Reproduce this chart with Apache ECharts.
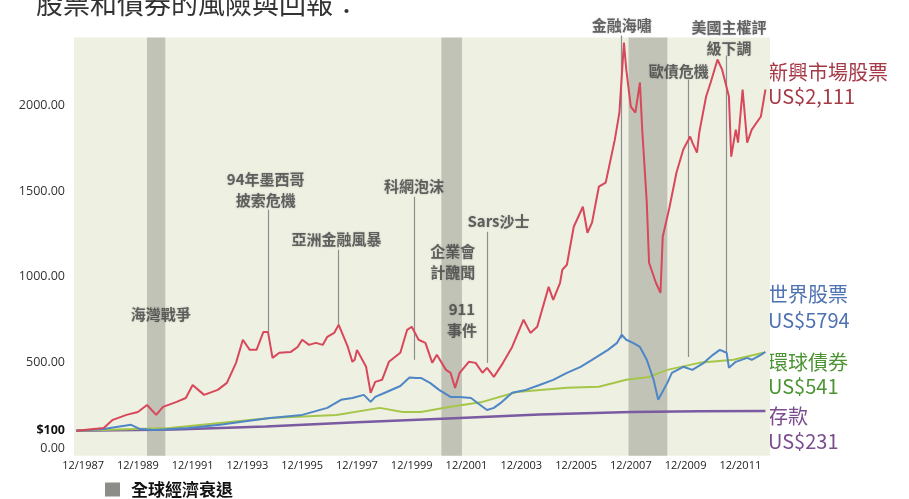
<!DOCTYPE html>
<html><head><meta charset="utf-8">
<script src="https://cdn.jsdelivr.net/npm/echarts@6/dist/echarts.min.js"></script>
<style>html,body{margin:0;padding:0;background:#fff}#c{width:909px;height:499px}</style>
</head><body><div id="c"></div>
<script>
// x = months after 12/1987
const xTickMonths = [0,24,48,72,96,120,144,168,192,216,240,264,288];
const yTicks = [0,100,500,1000,1500,2000];

const emMonths = [-3,9,13,19,24,28,32,35,41,45,48,53,59,63,67,70,73,76,79,81,83,86,91,94,96,99,102,105,107,110,112,116,118,119,120,124,126,128,131,134,139,142,144,147,150,153,155,159,161,163,165,169,172,175,177,180,184,188,193,196,199,204,206,209,210,212,215,219,221,223,226,229,233,235,237,238,240,242,244,245,247,248,251,253,254,257,260,263,266,267,269,270,273,275,278,280,283,284,286,287,289,291,293,297,299];
const emValues = [100,117,164,193,210,251,193,240,269,292,368,310,339,380,497,632,573,573,678,678,526,556,561,590,632,602,614,602,649,672,719,590,503,515,573,474,322,386,398,503,556,690,708,632,614,497,544,456,439,351,439,503,497,439,468,415,497,590,749,672,708,941,865,965,1041,1070,1292,1409,1257,1316,1526,1550,1801,1959,2368,2211,1994,1959,2135,1860,1433,1082,965,906,1234,1409,1608,1743,1819,1784,1725,1842,2053,2135,2269,2211,2053,1702,1860,1784,2094,1784,1860,1936,2094];

const wsMonths = [-3,9,16,21,25,31,46,60,72,82,96,107,113,118,123,126,128,133,139,143,146,148,152,156,161,165,170,174,177,180,183,188,194,200,206,212,218,223,230,234,236,238,241,244,247,250,252,256,258,263,267,272,276,279,282,283,286,291,293,297,299];
const wsValues = [100,110,125,135,110,105,117,135,158,175,193,234,281,292,310,269,298,327,362,412,409,409,380,339,298,298,292,251,222,234,263,322,339,368,398,439,474,515,573,614,661,632,614,590,515,398,281,380,439,474,456,497,544,573,556,468,503,526,515,544,561];

const gbMonths = [-3,38,60,82,111,130,140,148,161,175,190,212,226,238,248,256,270,285,298];
const gbValues = [100,117,146,175,193,234,210,210,240,269,327,351,357,398,415,456,497,515,556];

const dpMonths = [-3,40,80,120,160,200,240,270,299];
const dpValues = [100,108,125,150,172,195,210,214,216];

const recessionStart = [28,157,239];
const recessionEnd = [36,166,256];

const annoText = ['海灣戰爭','94年墨西哥\n披索危機','亞洲金融風暴','科網泡沫','企業會\n計醜聞','911\n事件','Sars沙士','金融海嘯','歐債危機','美國主權評\n級下調'];
const annoTextM = [34,80,111,145,162,166,182,236,261,283];
const annoTextV = [778,1509,1216,1526,1088,749,1322,2468,2199,2398];
const annoLineM = [null,81,112,145,null,null,177,236,265,282];
const annoLineTop = [null,1392,1158,1468,null,null,1263,2409,2152,2292];
const annoLineEnd = [null,678,719,515,null,null,497,640,532,561];

const seriesNames = ['新興市場股票','世界股票','環球債券','存款'];
const endLabels = ['US$2,111','US$5794','US$541','US$231'];

const zip = (a,b) => a.map((m,i)=>[m,b[i]]);
const CJK = '"Noto Sans CJK TC","Noto Sans",sans-serif';
const plotTop = 2398, plotBottom = -45;

const chart = echarts.init(document.getElementById('c'));
const lineSeries = (name, pts, color, w, z) => ({
  name, type:'line', data:pts, showSymbol:false, symbol:'none', z,
  lineStyle:{color, width:w}, itemStyle:{color}, animation:false
});

const option = {
  animation:false,
  backgroundColor:'#ffffff',
  title:{text:'股票和債券的風險與回報：', left:31, top:-15,
    textStyle:{fontFamily:CJK, fontSize:27, fontWeight:'normal', color:'#333'}},
  legend:{data:['全球經濟衰退'], left:105, top:481, padding:0, icon:'rect', itemWidth:15, itemHeight:14,
    textStyle:{fontFamily:CJK, fontSize:17, fontWeight:'bold', color:'#111', padding:[0,0,0,6]}},
  grid:{left:74, width:696, top:20, height:436.5, containLabel:false},
  xAxis:{type:'value', min:-4, max:301,
    axisLine:{show:false}, axisTick:{show:false}, splitLine:{show:false},
    axisLabel:{customValues:xTickMonths, formatter:v=>'12/'+(1987+v/12), fontSize:11, color:'#222', margin:4, fontFamily:'"Open Sans",sans-serif'}},
  yAxis:{type:'value', min:-50, max:2500,
    axisLine:{show:false}, axisTick:{show:false}, splitLine:{show:false},
    axisLabel:{customValues:yTicks, margin:9, fontSize:12.5, color:'#333', fontFamily:'"Open Sans",sans-serif',
      formatter:v=> v===100 ? '{b|$100}' : v.toFixed(2),
      rich:{b:{fontWeight:'bold', fontSize:12.5, color:'#111', fontFamily:'"Open Sans",sans-serif'}}}},
  graphic:[
    {type:'text', left:768, top:60, style:{text:seriesNames[0]+'\n'+endLabels[0], font:'20px '+CJK, fill:'#a53a46', lineHeight:24}},
    {type:'text', left:768, top:281, style:{text:seriesNames[1]+'\n'+endLabels[1], font:'20px '+CJK, fill:'#4f72b2', lineHeight:26}},
    {type:'text', left:768, top:350, style:{text:seriesNames[2]+'\n'+endLabels[2], font:'20px '+CJK, fill:'#4c9433', lineHeight:24}},
    {type:'text', left:768, top:404, style:{text:seriesNames[3]+'\n'+endLabels[3], font:'20px '+CJK, fill:'#7b4c8e', lineHeight:25}}
  ],
  series:[
    {name:'bg', type:'line', data:[], z:1, silent:true,
      markArea:{silent:true, itemStyle:{color:'#eef0e2'},
        data:[[{coord:[-4, plotTop]},{coord:[301, plotBottom]}]]}},
    {name:'全球經濟衰退', type:'line', data:[], z:2, silent:true,
      itemStyle:{color:'#8c8c88'}, lineStyle:{color:'#8c8c88'},
      markArea:{silent:true, itemStyle:{color:'rgba(120,122,114,0.38)'},
        data:recessionStart.map((s,i)=>[{coord:[s, plotTop]},{coord:[recessionEnd[i], plotBottom]}])}},
    lineSeries(seriesNames[3], zip(dpMonths, dpValues), '#7a5aa0', 2.5, 3),
    lineSeries(seriesNames[2], zip(gbMonths, gbValues), '#a6c64a', 2, 4),
    lineSeries(seriesNames[1], zip(wsMonths, wsValues), '#4f86c6', 2, 5),
    lineSeries(seriesNames[0], zip(emMonths, emValues), '#d8475a', 2, 6),
    {name:'annotations', type:'scatter', z:7, symbolSize:0, silent:true,
      data:annoText.map((t,i)=>({name:t, value:[annoTextM[i], annoTextV[i]]})),
      label:{show:true, position:'inside', formatter:p=>p.name, fontFamily:CJK, fontSize:15, fontWeight:'bold',
        color:'#444', lineHeight:21, textShadowColor:'rgba(60,60,60,0.35)', textShadowBlur:2},
      markLine:{silent:true, symbol:['none','circle'], symbolSize:[0,4], label:{show:false},
        lineStyle:{color:'#8e8e8e', width:1.2, type:'solid'}, itemStyle:{color:'#666'},
        data:annoLineM.map((m,i)=>m===null?null:[{coord:[m, annoLineTop[i]]},{coord:[m, annoLineEnd[i]]}]).filter(d=>d)}}
  ]
};
chart.setOption(option);
</script></body></html>
